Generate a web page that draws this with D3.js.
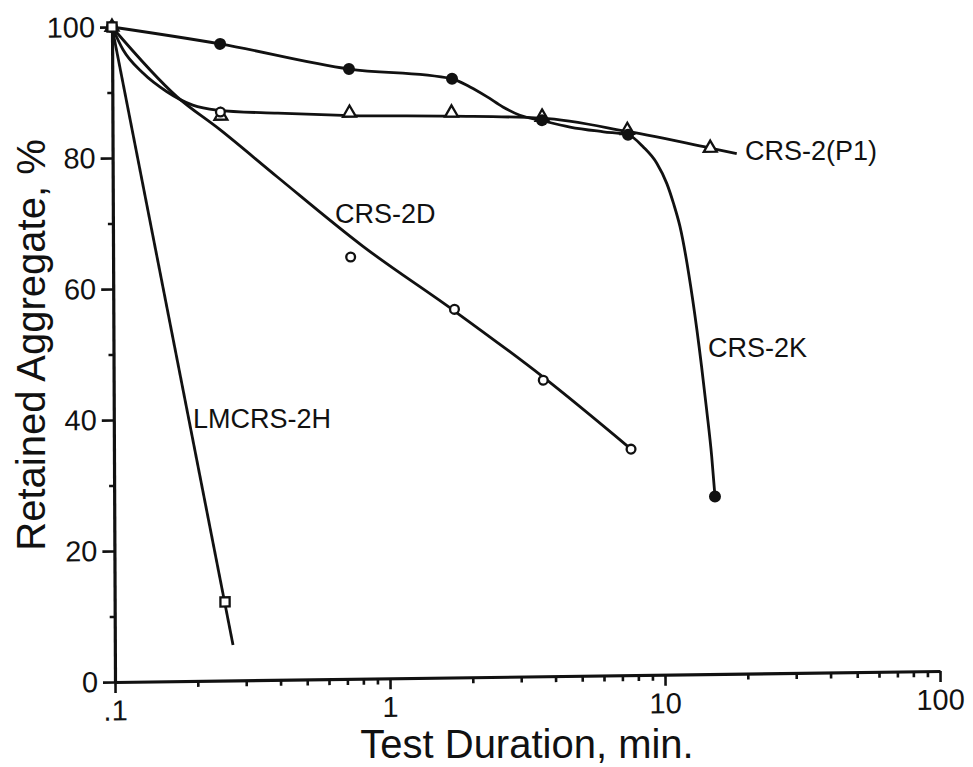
<!DOCTYPE html>
<html>
<head>
<meta charset="utf-8">
<script src="https://cdn.jsdelivr.net/npm/d3@7"></script>
<style>
  body { margin: 0; background: #fff; }
  svg { display: block; font-family: "Liberation Sans", Arial, Helvetica, sans-serif; }
</style>
</head>
<body>
<svg id="chart" width="973" height="767"></svg>
<script>
// Measured points: test duration (min) and retained aggregate (%)
const crs2kTime       = [0.1, 0.247, 0.726, 1.72, 3.65, 7.49, 15.3];
const crs2kRetained   = [100, 97.2, 93.1, 91.4, 84.9, 82.5, 27.1];
const crs2p1Time      = [0.1, 0.248, 0.728, 1.71, 3.65, 7.45, 14.9];
const crs2p1Retained  = [100, 86.2, 86.4, 86.2, 85.4, 83.2, 80.3];
const crs2dTime       = [0.1, 0.247, 0.731, 1.74, 3.65, 7.59];
const crs2dRetained   = [100, 86.8, 64.4, 56.2, 45.2, 34.5];
const lmcrs2hTime     = [0.1, 0.252];
const lmcrs2hRetained = [100, 12.0];

// Hand-drawn trend curves for each emulsion
const crs2kCurveTime = [0.1, 0.247, 0.726, 1.72, 2.00, 2.30, 2.63, 3.03, 3.59, 4.61, 6.10, 7.49,
                        8.51, 9.52, 10.34, 10.92, 11.53, 12.80, 13.75, 14.32, 14.91, 15.3];
const crs2kCurveRetained = [100, 97.2, 93.1, 91.4, 90.1, 88.6, 87.0, 85.7, 84.9, 83.8, 83.0, 82.5,
                            80.6, 78.1, 75.0, 72.0, 68.4, 57.1, 46.9, 40.3, 33.2, 27.1];
const crs2p1CurveTime = [0.1, 0.1096, 0.1294, 0.158, 0.196, 0.24, 0.399, 0.73, 1.71, 3.65, 7.45, 14.9, 18.6];
const crs2p1CurveRetained = [100, 96.5, 92.9, 90.0, 87.9, 87.1, 86.5, 86.0, 85.7, 85.2, 83.0, 80.3, 79.4];
const crs2dCurveTime = [0.1, 0.172, 0.246, 0.396, 0.811, 1.72, 3.64, 7.59];
const crs2dCurveRetained = [100, 89.2, 84.1, 76.8, 66.0, 56.1, 45.7, 34.5];
const lmcrs2hCurveTime = [0.1, 0.269];
const lmcrs2hCurveRetained = [100, 5.4];

// Axis ticks
const xTickValues = [0.1, 1, 10, 100];
const xTickLabels = [".1", "1", "10", "100"];
const xMinorTicks = [0.2, 0.3, 0.4, 0.5, 0.6, 0.7, 0.8, 0.9,
                     2, 3, 4, 5, 6, 7, 8, 9,
                     20, 30, 40, 50, 60, 70, 80, 90];
const yTickValues = [0, 20, 40, 60, 80, 100];
const yMinorTicks = [10, 30, 50, 70, 90];

// Series labels
const seriesNames = ["CRS-2(P1)", "CRS-2D", "CRS-2K", "LMCRS-2H"];

const svg = d3.select("#chart");
svg.append("rect").attr("width", 973).attr("height", 767).attr("fill", "#fff");

const x = d3.scaleLog().domain([0.1, 100]).range([115, 940]);
const y = d3.scaleLinear().domain([0, 100]).range([682, 27]);

// Plot frame, slightly skewed as on the printed page
const plot = svg.append("g")
  .attr("transform", "matrix(1,-0.01333,0.00458,1,-3.12,1.53)");

const ink = "#111";

// Axes
const xMajor = plot.append("g").attr("transform", `translate(0,${y(0)})`)
  .call(d3.axisBottom(x).tickValues(xTickValues)
        .tickFormat((d, i) => xTickLabels[i]).tickSize(11).tickSizeOuter(0).tickPadding(7));
const xMinor = plot.append("g").attr("transform", `translate(0,${y(0)})`)
  .call(d3.axisBottom(x).tickValues(xMinorTicks).tickFormat("").tickSize(6).tickSizeOuter(0));
xMinor.select(".domain").remove();

const yMajor = plot.append("g").attr("transform", `translate(${x(0.1)},0)`)
  .call(d3.axisLeft(y).tickValues(yTickValues).tickSize(12).tickSizeOuter(0).tickPadding(5));
const yMinor = plot.append("g").attr("transform", `translate(${x(0.1)},0)`)
  .call(d3.axisLeft(y).tickValues(yMinorTicks).tickFormat("").tickSize(5).tickSizeOuter(0));
yMinor.select(".domain").remove();

[xMajor, xMinor, yMajor, yMinor].forEach(g => {
  g.selectAll(".domain").attr("stroke", ink).attr("stroke-width", 3.2);
  g.selectAll(".tick line").attr("stroke", ink).attr("stroke-width", 2.6);
  g.selectAll(".tick text").attr("fill", ink).attr("font-size", 29)
    .attr("font-family", "'Liberation Sans', Arial, Helvetica, sans-serif");
});

// Trend curves
const line = d3.line().x(d => x(d[0])).y(d => y(d[1])).curve(d3.curveMonotoneX);
const curves = [
  d3.zip(crs2kCurveTime, crs2kCurveRetained),
  d3.zip(crs2p1CurveTime, crs2p1CurveRetained),
  d3.zip(crs2dCurveTime, crs2dCurveRetained),
  d3.zip(lmcrs2hCurveTime, lmcrs2hCurveRetained)
];
plot.selectAll("path.curve").data(curves).join("path")
  .attr("class", "curve")
  .attr("d", line)
  .attr("fill", "none")
  .attr("stroke", ink)
  .attr("stroke-width", 2.8)
  .attr("stroke-linejoin", "round")
  .attr("stroke-linecap", "butt");

// Markers
const triangle = d3.symbol().type(d3.symbolTriangle).size(72);
plot.selectAll("path.tri").data(d3.zip(crs2p1Time, crs2p1Retained)).join("path")
  .attr("class", "tri")
  .attr("d", triangle)
  .attr("transform", d => `translate(${x(d[0])},${y(d[1])})`)
  .attr("fill", "#fff").attr("stroke", ink).attr("stroke-width", 2.3);

plot.selectAll("circle.open").data(d3.zip(crs2dTime, crs2dRetained)).join("circle")
  .attr("class", "open")
  .attr("cx", d => x(d[0])).attr("cy", d => y(d[1])).attr("r", 4.4)
  .attr("fill", "#fff").attr("stroke", ink).attr("stroke-width", 2.3);

plot.selectAll("circle.solid").data(d3.zip(crs2kTime, crs2kRetained)).join("circle")
  .attr("class", "solid")
  .attr("cx", d => x(d[0])).attr("cy", d => y(d[1])).attr("r", 6)
  .attr("fill", ink);

const square = d3.symbol().type(d3.symbolSquare).size(85);
plot.selectAll("path.sq").data(d3.zip(lmcrs2hTime, lmcrs2hRetained)).join("path")
  .attr("class", "sq")
  .attr("d", square)
  .attr("transform", d => `translate(${x(d[0])},${y(d[1])})`)
  .attr("fill", "#fff").attr("stroke", ink).attr("stroke-width", 2.3);

// Curve labels
const labelPos = [[745, 160], [335, 223], [708, 357], [193, 428]];
svg.selectAll("text.series").data(seriesNames).join("text")
  .attr("class", "series")
  .attr("x", (d, i) => labelPos[i][0])
  .attr("y", (d, i) => labelPos[i][1])
  .attr("font-size", 27)
  .attr("fill", ink)
  .text(d => d);

// Axis titles
svg.append("text")
  .attr("x", 527).attr("y", 758)
  .attr("text-anchor", "middle")
  .attr("font-size", 40).attr("fill", ink)
  .text("Test Duration, min.");

svg.append("text")
  .attr("transform", "translate(45,345) rotate(-90)")
  .attr("text-anchor", "middle")
  .attr("font-size", 40).attr("fill", ink)
  .text("Retained Aggregate, %");
</script>
</body>
</html>
